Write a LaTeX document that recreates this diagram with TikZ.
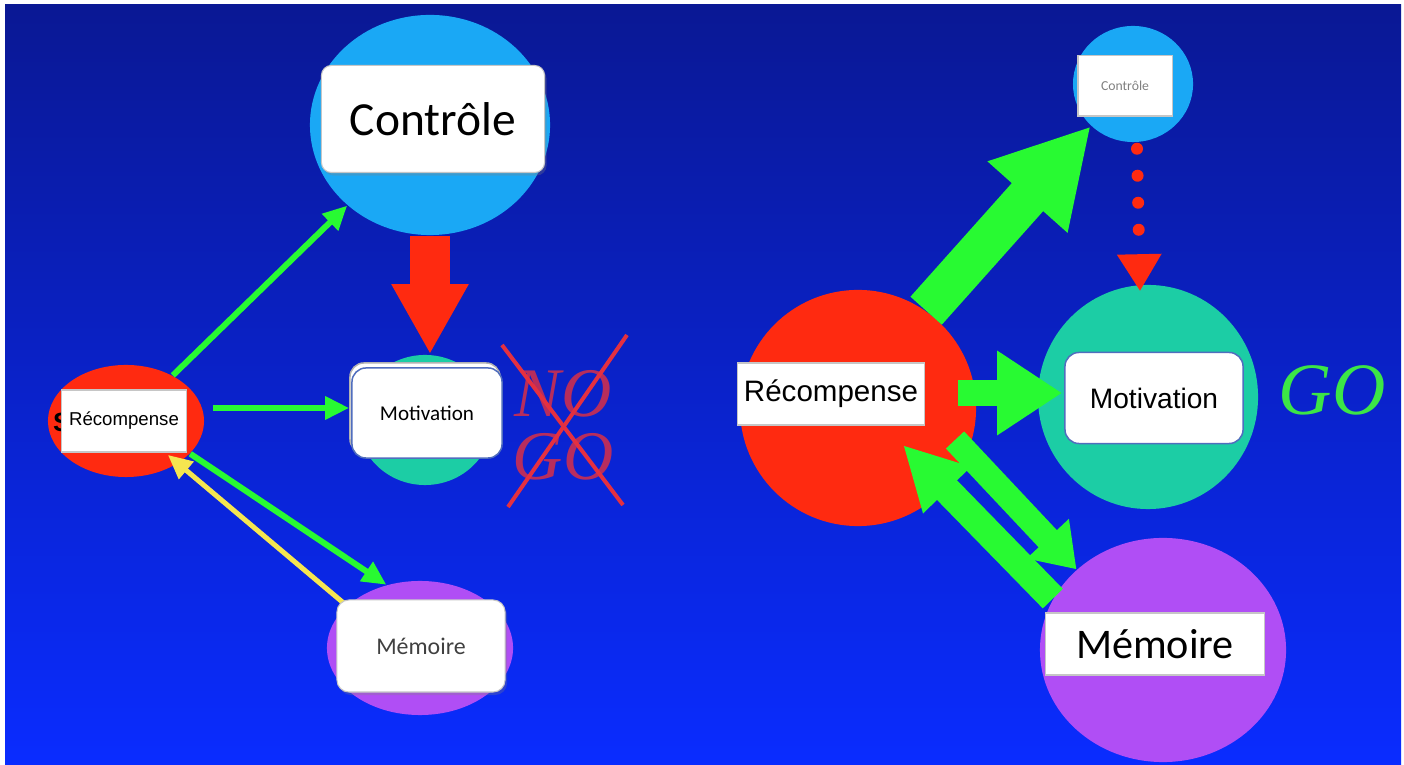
\documentclass[tikz,border=0pt]{standalone}
\usepackage{fontspec}
\usetikzlibrary{arrows.meta,shapes.geometric,shadows}
\newfontfamily\calfont{Carlito}
\newfontfamily\arialfont{Liberation Sans}
\newfontfamily\romanfont{Liberation Serif}

\definecolor{bgtop}{RGB}{10,24,148}
\definecolor{bgbot}{RGB}{10,44,255}
\definecolor{ctlblue}{RGB}{26,168,245}
\definecolor{recred}{RGB}{255,42,16}
\definecolor{motteal}{RGB}{28,205,165}
\definecolor{mempurple}{RGB}{176,78,245}
\definecolor{arrgreen}{RGB}{40,250,50}
\definecolor{arryellow}{RGB}{245,230,80}
\definecolor{boxedge}{RGB}{80,110,190}
\definecolor{nored}{RGB}{228,48,64}
\definecolor{gogreen}{RGB}{60,230,70}

\begin{document}
\begin{tikzpicture}[x=0.01cm,y=-0.01cm,
  blob/.style={ellipse,inner sep=0pt},
  labelbox/.style={rectangle,fill=white,draw=gray!45,line width=0.3pt,inner sep=0pt},
  softbox/.style={labelbox,rounded corners=0.1cm,
    drop shadow={shadow xshift=0.02cm,shadow yshift=-0.03cm,opacity=0.3}},
  edgebox/.style={labelbox,rounded corners=0.14cm,draw=boxedge,line width=0.015cm},
  thinarrow/.style={arrgreen,line width=0.06cm,-{Triangle[length=0.24cm,width=0.22cm]}},
  strike/.style={nored,line width=0.04cm},
]
  % background
  \fill[white] (0,0) rectangle (1404,765);
  \shade[top color=bgtop,bottom color=bgbot] (5,5) rectangle (1401,765);

  % left: NO GO
  \node[blob,fill=ctlblue,minimum width=2.4cm,minimum height=2.2cm] (ctlL) at (430,125) {};
  \node[blob,fill=motteal,minimum width=1.35cm,minimum height=1.3cm] (motL) at (425,420) {};
  \node[blob,fill=recred,minimum width=1.56cm,minimum height=1.12cm] (recL) at (126,421) {};
  \node[blob,fill=mempurple,minimum width=1.86cm,minimum height=1.34cm] (memL) at (420,648) {};

  \node[inner sep=0pt,font=\arialfont\bfseries\fontsize{7.5pt}{9pt}\selectfont] (sglyph) at (62,422) {S};
  \node[softbox,minimum width=2.23cm,minimum height=1.07cm,
    font=\calfont\fontsize{13.5pt}{16pt}\selectfont] (ctlLbox) at (433,119) {Contrôle};
  \node[edgebox,copy shadow={shadow xshift=-0.02cm,shadow yshift=0.05cm,fill=white,draw=gray!60},
    minimum width=1.5cm,minimum height=0.9cm,
    font=\calfont\fontsize{6pt}{7pt}\selectfont] (motLbox) at (427,413) {Motivation};
  \node[labelbox,minimum width=1.25cm,minimum height=0.62cm,
    font=\arialfont\fontsize{5.3pt}{6pt}\selectfont] (recLbox) at (124,421) {Récompense};

  \draw[thinarrow] (recL) -- (ctlL);
  \draw[thinarrow] ([shift={(8,-13)}]recL.east) -- ([shift={(-2,-5)}]motLbox.west);
  \draw[thinarrow] (recL.-27) -- (memL.118);
  \draw[thinarrow,arryellow,line width=0.05cm] (memL.150) -- ([shift={(42,34)}]recL.center);
  \draw[recred,line width=0.4cm,-{Triangle[length=0.7cm,width=0.72cm]}]
    (ctlL.south) -- (ctlL.south |- motL.north);

  \node[softbox,rounded corners=0.12cm,minimum width=1.68cm,minimum height=0.92cm,text=black!75,
    font=\calfont\fontsize{6.8pt}{8pt}\selectfont] (memLbox) at (421,646) {Mémoire};

  \node[align=center,inner sep=0pt,text=nored,text opacity=0.8,
    font=\romanfont\itshape\fontsize{19.8pt}{17.9pt}\selectfont] (nogo) at (563,425) {NO\\GO};
  \draw[strike] ([shift={(-61,-80)}]nogo.center) -- ([shift={(60,80)}]nogo.center);
  \draw[strike] ([shift={(64,-90)}]nogo.center) -- ([shift={(-55,82)}]nogo.center);

  % right: GO
  \node[blob,fill=ctlblue,minimum width=1.2cm,minimum height=1.16cm] (ctlR) at (1133,84) {};
  \node[blob,fill=motteal,minimum width=2.2cm,minimum height=2.24cm] (motR) at (1148,397) {};
  \node[blob,fill=recred,minimum width=2.36cm,minimum height=2.36cm] (recR) at (858,408) {};
  \node[blob,fill=mempurple,minimum width=2.46cm,minimum height=2.24cm] (memR) at (1163,650) {};

  \node[labelbox,minimum width=0.94cm,minimum height=0.6cm,text=gray,
    font=\calfont\fontsize{3.9pt}{4.5pt}\selectfont] (ctlRbox) at (1125,86) {Contrôle};
  \node[edgebox,minimum width=1.78cm,minimum height=0.91cm,
    font=\arialfont\fontsize{8pt}{9.5pt}\selectfont] (motRbox) at (1154,398) {Motivation};
  \node[labelbox,minimum width=1.86cm,minimum height=0.62cm,
    font=\arialfont\fontsize{8.4pt}{10pt}\selectfont] (recRbox) at (831,394) {Récompense};
  \node[labelbox,minimum width=2.19cm,minimum height=0.62cm,
    font=\calfont\fontsize{12pt}{14pt}\selectfont] (memRbox) at (1155,644) {Mémoire};

  \draw[arrgreen,line width=0.42cm,-{Triangle[length=0.95cm,width=1cm]}] (recR.55) -- (ctlR.225);
  \draw[arrgreen,line width=0.26cm,-{Triangle[length=0.65cm,width=0.8cm]}]
    ([shift={(100,-15)}]recR.center) -- ([shift={(-2,-5)}]motRbox.west);
  \draw[arrgreen,line width=0.25cm,-{Triangle[length=0.42cm,width=0.55cm]}]
    ([shift={(97,32)}]recR.center) -- (memR.137);
  \draw[arrgreen,line width=0.28cm,-{Triangle[length=0.63cm,width=0.62cm]}]
    (memR.155) -- ([shift={(45,37)}]recR.center);
  \draw[recred,line width=0.12cm,line cap=round,dash pattern=on 0pt off 0.27cm,
    -{Triangle[length=0.37cm,width=0.42cm]}] ([shift={(4,6)}]ctlR.south) -- ([shift={(-8,7)}]motR.north);

  \node[text=gogreen,inner sep=0pt,font=\romanfont\itshape\fontsize{21pt}{24pt}\selectfont] (goR) at (1332,390) {GO};
\end{tikzpicture}
\end{document}
